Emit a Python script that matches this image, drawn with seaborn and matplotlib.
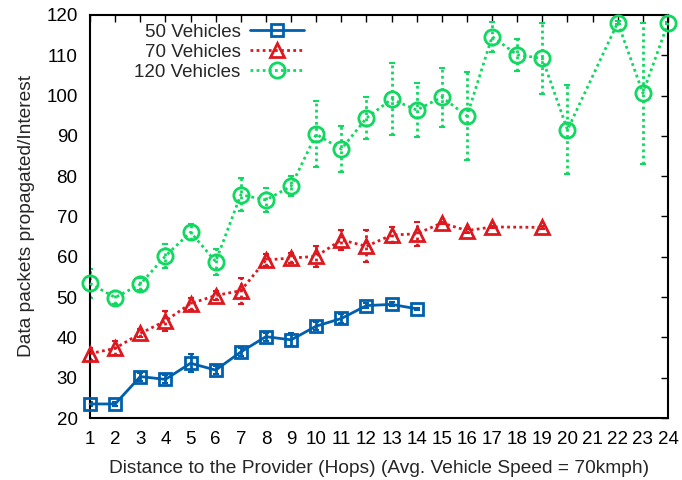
import pandas as pd
import matplotlib.pyplot as plt
import seaborn as sns

# Data
x50 = [1, 2, 3, 4, 5, 6, 7, 8, 9, 10, 11, 12, 13, 14]
y50 = [23.5, 23.5, 30.3, 29.6, 33.6, 31.9, 36.4, 40.2, 39.4, 42.8, 44.7, 47.9, 48.2, 47.1]
e50 = [0.6, 0.6, 1.0, 1.0, 2.2, 1.0, 1.0, 1.0, 1.6, 1.0, 1.0, 0.6, 0.5, 0.3]

x70 = [1, 2, 3, 4, 5, 6, 7, 8, 9, 10, 11, 12, 13, 14, 15, 16, 17, 19]
y70 = [36.0, 37.3, 41.0, 44.1, 48.4, 50.4, 51.6, 59.2, 59.7, 60.1, 64.2, 62.6, 65.4, 65.7, 68.4, 66.5, 67.4, 67.3]
e70 = [1.5, 1.7, 1.0, 2.5, 1.5, 1.0, 3.2, 1.5, 1.2, 2.7, 2.5, 4.0, 2.0, 2.9, 0.3, 0.5, 0.3, 0.3]

x120 = [1, 2, 3, 4, 5, 6, 7, 8, 9, 10, 11, 12, 13, 14, 15, 16, 17, 18, 19, 20, 22, 23, 24]
y120 = [53.4, 49.9, 53.2, 60.2, 66.1, 58.8, 75.4, 74.1, 77.5, 90.4, 86.7, 94.4, 99.1, 96.4,
        99.6, 94.9, 114.6, 110.1, 109.2, 91.5, 118.1, 100.6, 118.0]
e120 = [3.5, 1.5, 1.5, 3.0, 2.0, 3.2, 4.1, 3.0, 2.5, 8.2, 5.7, 5.3, 9.0, 6.7,
        7.3, 11.0, 3.7, 4.0, 8.7, 11.0, 0.3, 17.5, 0.3]

labels = ['50 Vehicles', '70 Vehicles', '120 Vehicles']
colors = ['#0060ad', '#dd181f', '#10d860']
markers = ['s', '^', 'o']
msizes = [9, 10, 11]
styles = ['-', (0, (1, 1.2)), (0, (1, 1.2))]

sns.set_style('white')
plt.rcParams['font.family'] = ['Liberation Sans', 'DejaVu Sans']

fig = plt.figure(figsize=(6.82, 4.8), dpi=100)
ax = fig.add_axes([0.132, 0.129, 0.8475, 0.84])

series = [(x50, y50, e50), (x70, y70, e70), (x120, y120, e120)]
for (xs, ys, es), lab, c, m, ms, ls in zip(series, labels, colors, markers, msizes, styles):
    df = pd.DataFrame({'x': xs, 'y': ys})
    sns.lineplot(data=df, x='x', y='y', ax=ax, color=c, linestyle=ls, linewidth=2,
                 marker=m, markersize=ms, markerfacecolor='none', markeredgecolor=c,
                 markeredgewidth=2, label=lab, errorbar=None, clip_on=False, zorder=3)
    eb = ax.errorbar(xs, ys, yerr=es, fmt='none', ecolor=c, elinewidth=2,
                     capsize=2, capthick=1.5, zorder=2)
    eb[2][0].set_linestyle(ls)

ax.set_xlim(1, 24)
ax.set_ylim(20, 120)
ax.set_xticks(range(1, 25))
ax.set_yticks(range(20, 121, 10))
ax.tick_params(direction='in', length=5, width=1, top=True, right=True,
               labelsize=13.5, colors='black', pad=9)
for sp in ax.spines.values():
    sp.set_visible(True)
    sp.set_color('black')
    sp.set_linewidth(1.5)

ax.set_xlabel('Distance to the Provider (Hops) (Avg. Vehicle Speed = 70kmph)',
              fontsize=13.8, labelpad=9)
ax.set_ylabel('Data packets propagated/Interest', fontsize=13.8, labelpad=8)

ax.legend(loc='upper right', bbox_to_anchor=(0.4, 1.02), markerfirst=False,
          frameon=False, fontsize=13.5, handlelength=2.9, labelspacing=0.15,
          handletextpad=0.5)

fig.savefig('out.png', dpi=100)
